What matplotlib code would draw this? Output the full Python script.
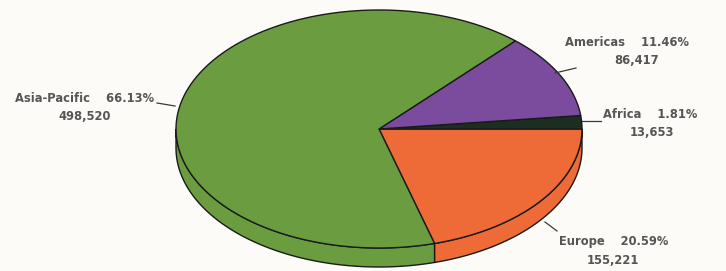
import numpy as np
import matplotlib.pyplot as plt
from matplotlib.patches import Polygon

regions = ['Europe', 'Africa', 'Americas', 'Asia-Pacific']
values = [155221, 13653, 86417, 498520]
colors = ['#ee6a36', '#1c2e22', '#7b4c9d', '#6b9d40']

total = sum(values)
fracs = [v / total for v in values]

# ellipse geometry in pixel units
cx, cy, rx, ry, depth = 379, 129, 203, 119, 19

def pt(t, dy=0):
    r = np.radians(t)
    return cx + rx * np.cos(r), cy - ry * np.sin(r) + dy

fig = plt.figure(figsize=(7.26, 2.71), dpi=100)
fig.patch.set_facecolor('#fdfbf8')
ax = fig.add_axes([0, 0, 1, 1])
ax.set_xlim(0, 726)
ax.set_ylim(271, 0)
ax.axis('off')

start = -360 * fracs[0]
angles = []
a = start
for f in fracs:
    angles.append((a, a + 360 * f))
    a += 360 * f

# side walls (front half of the ellipse)
for (a0, a1), c in zip(angles, colors):
    lo, hi = a0 % 360, a0 % 360 + (a1 - a0)
    segs = []
    for base in (0, 360):
        s, e = max(lo, 180 + base), min(hi, 360 + base)
        if e > s:
            segs.append((s, e))
    for s, e in segs:
        ts = np.linspace(s, e, 100)
        top = [pt(t) for t in ts]
        bot = [pt(t, depth) for t in ts[::-1]]
        ax.add_patch(Polygon(top + bot, closed=True, facecolor=c,
                             edgecolor='#1a1a1a', lw=1.0, zorder=1))

# top wedges
for (a0, a1), c in zip(angles, colors):
    ts = np.linspace(a0, a1, 200)
    pts = [(cx, cy)] + [pt(t) for t in ts]
    ax.add_patch(Polygon(pts, closed=True, facecolor=c,
                         edgecolor='#1a1a1a', lw=1.0, zorder=2))

# labels
txt = dict(fontsize=8.3, color='#555555', fontweight='bold', ha='center', va='center')
pcts = ['%.2f%%' % (100 * f) for f in fracs]
nums = ['{:,}'.format(v) for v in values]
label_pos = [(614, 242, 613, 261), (650, 115, 652, 133),
             (627, 42, 637, 60), (85, 99, 85, 117)]
leaders = [((545, 222), (557, 231)), ((582, 121), (601, 121)),
           ((555, 73), (576, 68)), ((175, 106), (157, 103))]
for i, name in enumerate(regions):
    x1, y1, x2, y2 = label_pos[i]
    ax.text(x1, y1, name + '    ' + pcts[i], **txt)
    ax.text(x2, y2, nums[i], **txt)
    (p, q) = leaders[i]
    ax.plot([p[0], q[0]], [p[1], q[1]], color='#3a3a3a', lw=0.9, zorder=3)

plt.savefig('out.png', dpi=100, facecolor=fig.get_facecolor())
